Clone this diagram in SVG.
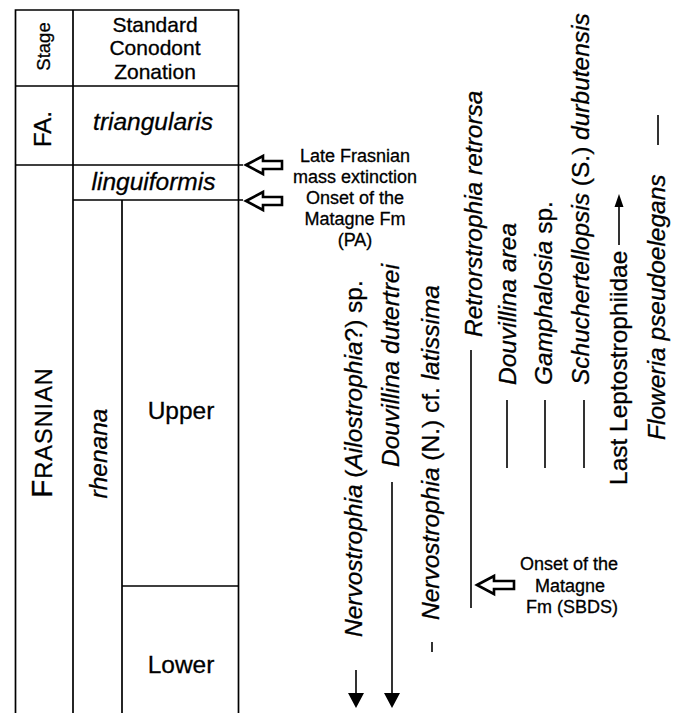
<svg xmlns="http://www.w3.org/2000/svg" width="680" height="713" viewBox="0 0 680 713">
<style>
text{font-family:"Liberation Sans",Arial,Helvetica,sans-serif;fill:#000;stroke:#000;stroke-width:0.3}
.sp{font-size:24.5px;font-style:italic}
.rg{font-size:24.5px}
.note{font-size:18px;text-anchor:middle}
.tl{stroke:#000;stroke-width:1.7;fill:none}
.rl{stroke:#000;stroke-width:1.6;fill:none}
.ha{fill:#fff;stroke:#000;stroke-width:2.6;stroke-linejoin:miter}
</style>
<rect width="680" height="713" fill="#fff"/>
<g id="table">
<path class="tl" d="M15.5 713V10H238.5V713M73 10V713M15.5 86H238.5M15.5 165H243M73 200H243M122 200V713M122 586H238.5"/>
</g>
<g id="stage-header"><text font-size="18.5" text-anchor="middle" transform="translate(50,46.5) rotate(-90)">Stage</text></g>
<g id="zonation-header"><text font-size="21" text-anchor="middle"><tspan x="155" y="32">Standard</tspan><tspan x="155" y="55">Conodont</tspan><tspan x="155" y="79">Zonation</tspan></text></g>
<g id="stage-fa"><text font-size="24" text-anchor="middle" transform="translate(51,129) rotate(-90)">FA.</text></g>
<g id="zone-triangularis"><text class="sp" x="153" y="130" text-anchor="middle">triangularis</text></g>
<g id="zone-linguiformis"><text class="sp" x="153.5" y="190" text-anchor="middle">linguiformis</text></g>
<g id="stage-frasnian"><text transform="translate(52,498) rotate(-90)" letter-spacing="1"><tspan font-size="30">F</tspan><tspan font-size="23.5">RASNIAN</tspan></text></g>
<g id="zone-rhenana"><text class="sp" text-anchor="middle" transform="translate(107,453.5) rotate(-90)">rhenana</text></g>
<g id="zone-upper"><text class="rg" x="181" y="419" text-anchor="middle">Upper</text></g>
<g id="zone-lower"><text class="rg" x="181" y="673" text-anchor="middle">Lower</text></g>
<g id="event-extinction">
<polygon class="ha" points="246,165 263,156 263,161 282,161 282,169 263,169 263,174"/>
<text class="note"><tspan x="355" y="162">Late Frasnian</tspan><tspan x="355" y="183">mass extinction</tspan></text>
</g>
<g id="event-onset-pa">
<polygon class="ha" points="246,201 263,192 263,197 282,197 282,205 263,205 263,210"/>
<text class="note"><tspan x="355" y="204">Onset of the</tspan><tspan x="355" y="225">Matagne Fm</tspan><tspan x="355" y="246">(PA)</tspan></text>
</g>
<g id="event-onset-sbds">
<polygon class="ha" points="477,585 494,576 494,581 514,581 514,589 494,589 494,594"/>
<text class="note"><tspan x="569" y="570">Onset of the</tspan><tspan x="570" y="592">Matagne</tspan><tspan x="572" y="613">Fm (SBDS)</tspan></text>
</g>
<g id="taxon-nervostrophia-ailostrophia"><text class="sp" transform="translate(362,637) rotate(-90)">Nervostrophia <tspan font-style="normal">(</tspan>Ailostrophia<tspan font-style="normal">?) sp.</tspan></text></g>
<g id="taxon-douvillina-dutertrei"><text class="sp" transform="translate(399,467) rotate(-90)">Douvillina dutertrei</text></g>
<g id="taxon-nervostrophia-latissima"><text class="sp" transform="translate(439,620) rotate(-90)">Nervostrophia <tspan font-style="normal">(N.) cf.</tspan> latissima</text></g>
<g id="taxon-retrorstrophia"><text class="sp" transform="translate(482,337) rotate(-90)">Retrorstrophia retrorsa</text></g>
<g id="taxon-douvillina-area"><text class="sp" transform="translate(516,385) rotate(-90)">Douvillina area</text></g>
<g id="taxon-gamphalosia"><text class="sp" transform="translate(552,385) rotate(-90)">Gamphalosia <tspan font-style="normal">sp.</tspan></text></g>
<g id="taxon-schuchertellopsis"><text class="sp" transform="translate(589,385) rotate(-90)">Schuchertellopsis <tspan font-style="normal">(S.)</tspan> durbutensis</text></g>
<g id="taxon-leptostrophiidae"><text class="rg" transform="translate(627,485) rotate(-90)">Last Leptostrophiidae</text></g>
<g id="taxon-floweria"><text class="sp" transform="translate(665,440) rotate(-90)">Floweria pseudoelegans</text></g>
<g id="ranges">
<path class="rl" d="M356 670V695M392 482V695M432 642V652M471 350V608M507 400V468M545 400V468M584 400V468M619 245V205M658 115V145"/>
<polygon points="348,693 364,693 356,708"/>
<polygon points="384,693 400,693 392,708"/>
<polygon points="614.5,207 623.5,207 619,194"/>
</g>
</svg>
